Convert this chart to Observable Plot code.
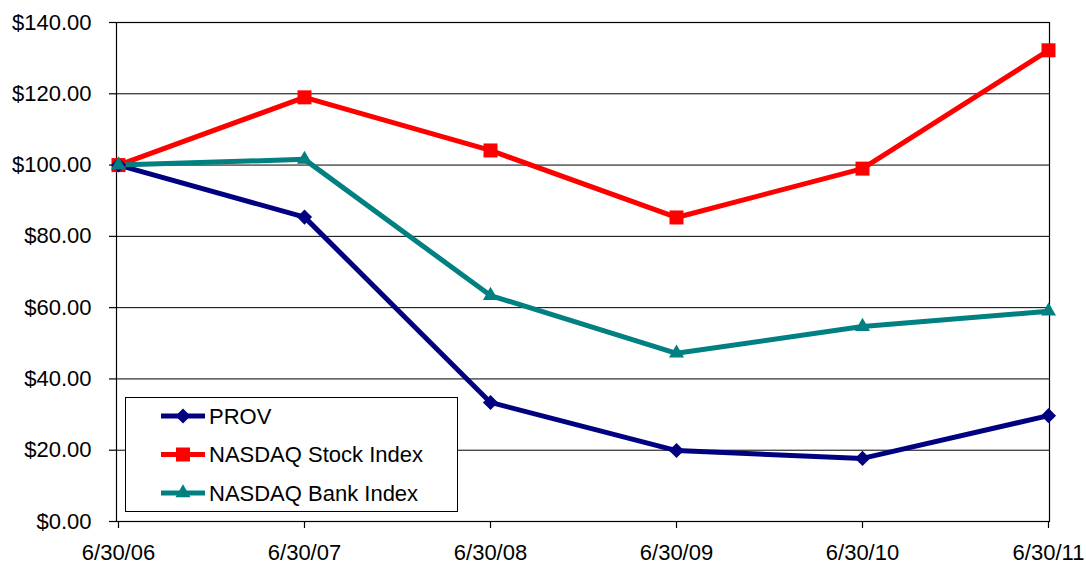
<!DOCTYPE html>
<html><head><meta charset="utf-8">
<script src="https://cdn.jsdelivr.net/npm/d3@7"></script>
<script src="https://cdn.jsdelivr.net/npm/@observablehq/plot@0.6"></script>
<style>body{margin:0;background:#fff;overflow:hidden;}</style>
</head><body><div id="chart"></div>
<script>
const dates = ["6/30/06","6/30/07","6/30/08","6/30/09","6/30/10","6/30/11"];
const prov  = [100.00, 85.40, 33.40, 19.90, 17.70, 29.70];
const stock = [100.00, 119.00, 104.10, 85.30, 99.00, 132.20];
const bank  = [100.00, 101.60, 63.40, 47.20, 54.70, 59.00];
const seriesNames = ["PROV","NASDAQ Stock Index","NASDAQ Bank Index"];
const yTicks = [0,20,40,60,80,100,120,140];

const colors = ["#000080","#FF0000","#008080"];
const symbols = ["diamond2","square","triangle"];
const radii = [6.8, 7.9, 5.6];
const FONT = "Arial, 'Liberation Sans', sans-serif";
const FS = 22;

const values = [prov, stock, bank];
const data = seriesNames.flatMap((s, i) => dates.map((d, j) => ({series: s, date: d, value: values[i][j], r: radii[i]})));

const svg = Plot.plot({
  width: 1086, height: 563,
  marginLeft: 116, marginRight: 37, marginTop: 22, marginBottom: 42,
  style: {fontFamily: FONT, fontSize: FS + "px", color: "#000", background: "#fff", overflow: "visible"},
  x: {type: "point", domain: dates, padding: 0, label: null},
  y: {domain: [0, 140], label: null},
  color: {domain: seriesNames, range: colors},
  symbol: {domain: seriesNames, range: symbols},
  r: {type: "identity"},
  marks: [
    Plot.gridY(yTicks, {stroke: "#000", strokeOpacity: 1, strokeWidth: 1}),
    Plot.frame({stroke: "#000", strokeWidth: 1.2}),
    Plot.axisY(yTicks, {tickSize: 7, tickPadding: 18, tickFormat: d => "$" + d.toFixed(2), fontSize: FS, label: null, strokeWidth: 1.2}),
    Plot.axisX({tickSize: 7, tickPadding: 16, fontSize: FS, label: null, strokeWidth: 1.2}),
    Plot.line(data, {x: "date", y: "value", z: "series", stroke: "series", strokeWidth: 5, strokeLinejoin: "miter", strokeLinecap: "butt"}),
    Plot.dot(data, {x: "date", y: "value", fill: "series", symbol: "series", r: "r", stroke: "none"})
  ]
});
document.getElementById("chart").appendChild(svg);

// Legend inside the plot area
const sel = d3.select(svg);
const lg = sel.append("g").attr("text-anchor", "start");
lg.append("rect").attr("x", 125.5).attr("y", 397.5).attr("width", 332).attr("height", 114)
  .attr("fill", "#fff").attr("stroke", "#000").attr("stroke-width", 1);
seriesNames.forEach((name, i) => {
  const cy = 416 + i * 38.5;
  const g = lg.append("g");
  g.append("line").attr("x1", 161).attr("x2", 205).attr("y1", cy).attr("y2", cy)
    .attr("stroke", colors[i]).attr("stroke-width", 5);
  const symType = [d3.symbolDiamond2, d3.symbolSquare, d3.symbolTriangle][i];
  g.append("path").attr("transform", `translate(183,${cy})`)
    .attr("d", d3.symbol(symType, radii[i] * radii[i] * Math.PI)())
    .attr("fill", colors[i]);
  g.append("text").attr("x", 209).attr("y", cy).attr("dy", "0.36em")
    .attr("text-anchor", "start")
    .attr("font-family", FONT).attr("font-size", FS).attr("fill", "#000").text(name);
});
</script>
</body></html>
